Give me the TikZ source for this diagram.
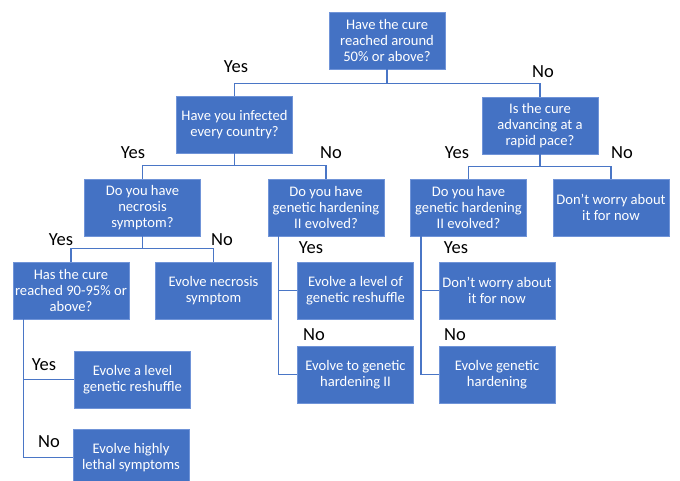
\documentclass[tikz,border=0pt]{standalone}
\usepackage{fontspec}
\setmainfont{Carlito}
\definecolor{boxblue}{HTML}{4472C4}
\definecolor{boxedge}{HTML}{7094D8}
\definecolor{linkblue}{HTML}{4A76C6}
\tikzset{
  qbox/.style={rectangle, fill=boxblue, draw=boxedge, line width=0.9pt,
    minimum width=116pt, minimum height=57pt, inner sep=1pt,
    text=white, align=center, font=\fontsize{14.6}{16.3}\selectfont},
  link/.style={draw=linkblue, line width=1.4pt},
  answer/.style={inner sep=0pt, text=black, font=\fontsize{18.5}{21}\selectfont}
}
\begin{document}
\begin{tikzpicture}[x=1pt,y=-1pt]
\useasboundingbox (0,0) rectangle (680,481);
\clip (0,0) rectangle (680,481);
\fill[white] (0,0) rectangle (680,481);

% decision and outcome boxes
\node[qbox] (root)    at (387,40.5)   {Have the cure\\reached around\\50\% or above?};
\node[qbox] (infect)  at (234.5,124.5){Have you infected\\every country?};
\node[qbox] (advance) at (540,125.5)  {Is the cure\\advancing at a\\rapid pace?};
\node[qbox] (necro)   at (142.5,207.5){Do you have\\necrosis\\symptom?};
\node[qbox] (ghA)     at (326,207.5)  {Do you have\\genetic hardening\\II evolved?};
\node[qbox] (ghB)     at (468.5,207.5){Do you have\\genetic hardening\\II evolved?};
\node[qbox] (calmA)   at (611,207.5)  {Don’t worry about\\it for now};
\node[qbox] (cure90)  at (71,290.5)   {Has the cure\\reached 90-95\% or\\above?};
\node[qbox] (evnec)   at (213.5,290.5){Evolve necrosis\\symptom};
\node[qbox] (shufA)   at (355.5,290.5){Evolve a level of\\genetic reshuffle};
\node[qbox] (calmB)   at (497,290.5)  {Don’t worry about\\it for now};
\node[qbox] (hardII)  at (355.5,374.5){Evolve to genetic\\hardening II};
\node[qbox] (hard)    at (497,374.5)  {Evolve genetic\\hardening};
\node[qbox] (shufB)   at (132.5,379.5){Evolve a level\\genetic reshuffle};
\node[qbox] (lethal)  at (131,457.5)  {Evolve highly\\lethal symptoms};

% tree connectors
\draw[link] (root.south) -- ++(0,14) -| (infect.north);
\draw[link] (root.south) -- ++(0,14) -| (advance.north);
\draw[link] (infect.south) -- ++(0,12) -| (necro.north);
\draw[link] (infect.south) -- ++(0,12) -| (ghA.north);
\draw[link] (advance.south) -- ++(0,12) -| (ghB.north);
\draw[link] (advance.south) -- ++(0,12) -| (calmA.north);
\draw[link] (necro.south) -- ++(0,12) -| (cure90.north);
\draw[link] (necro.south) -- ++(0,12) -| (evnec.north);

% side branches
\coordinate (cureT) at ([xshift=11pt]cure90.south west);
\coordinate (ghAT)  at ([xshift=11pt]ghA.south west);
\coordinate (ghBT)  at ([xshift=11pt]ghB.south west);
\draw[link] (cureT) |- (shufB.west);
\draw[link] (cureT) |- (lethal.west);
\draw[link] (ghAT) |- (shufA.west);
\draw[link] (ghAT) |- (hardII.west);
\draw[link] (ghBT) |- (calmB.west);
\draw[link] (ghBT) |- (hard.west);

% answer labels
\node[answer] (yRoot) at (236,67)  {Yes};
\node[answer] (nRoot) at (543,72)  {No};
\node[answer] (yInf)  at (133,153) {Yes};
\node[answer] (nInf)  at (331,153) {No};
\node[answer] (yAdv)  at (457,153) {Yes};
\node[answer] (nAdv)  at (622,153) {No};
\node[answer] (yNec)  at (61,240)  {Yes};
\node[answer] (nNec)  at (222,240) {No};
\node[answer] (yGhA)  at (311,248) {Yes};
\node[answer] (nGhA)  at (314,335) {No};
\node[answer] (yGhB)  at (456,248) {Yes};
\node[answer] (nGhB)  at (455,335) {No};
\node[answer] (yCur)  at (44,365)  {Yes};
\node[answer] (nCur)  at (49,442)  {No};
\end{tikzpicture}
\end{document}
